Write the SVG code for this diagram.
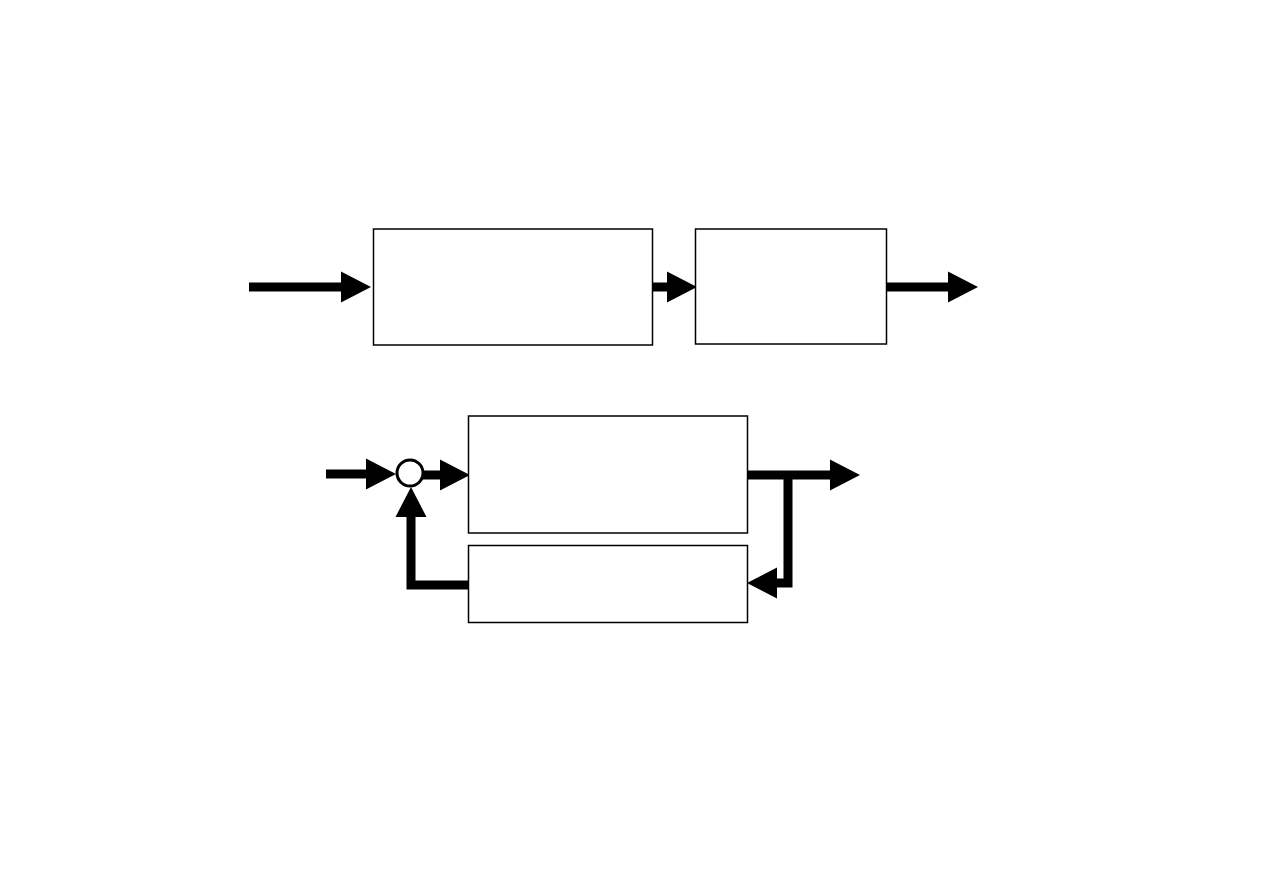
<svg xmlns="http://www.w3.org/2000/svg" width="1263" height="893" viewBox="0 0 1263 893">
<style>
.box{fill:#fff;stroke:#000;stroke-width:1.5}
.conn{fill:none;stroke:#000;stroke-width:9;stroke-linecap:butt;stroke-linejoin:miter;marker-end:url(#ah)}
.sum{fill:#fff;stroke:#000;stroke-width:3}
</style>
<defs>
<marker id="ah" markerUnits="userSpaceOnUse" markerWidth="31" markerHeight="32" refX="0" refY="15.5" orient="auto" overflow="visible">
<path d="M0,0 L30,15.5 L0,31 z" fill="#000"/>
</marker>
</defs>
<rect width="1263" height="893" fill="#fff"/>
<g id="connectors">
<path class="conn" d="M249,287 H341"/>
<path class="conn" d="M652,287 H667"/>
<path class="conn" d="M886,287 H948"/>
<path class="conn" d="M326,474 H366"/>
<path class="conn" d="M423,475 H440"/>
<path class="conn" d="M468,585 H411 V517"/>
<path class="conn" d="M747,475 H830"/>
<path class="conn" d="M788,475 V583 H777"/>
</g>
<g id="block1"><rect class="box" x="373.5" y="229" width="279" height="116"/></g>
<g id="block2"><rect class="box" x="695.5" y="229" width="191" height="115"/></g>
<g id="block3"><rect class="box" x="468.5" y="416" width="279" height="117"/></g>
<g id="block4"><rect class="box" x="468.5" y="545.5" width="279" height="77"/></g>
<g id="summing"><circle class="sum" cx="410" cy="473" r="13"/></g>
</svg>
